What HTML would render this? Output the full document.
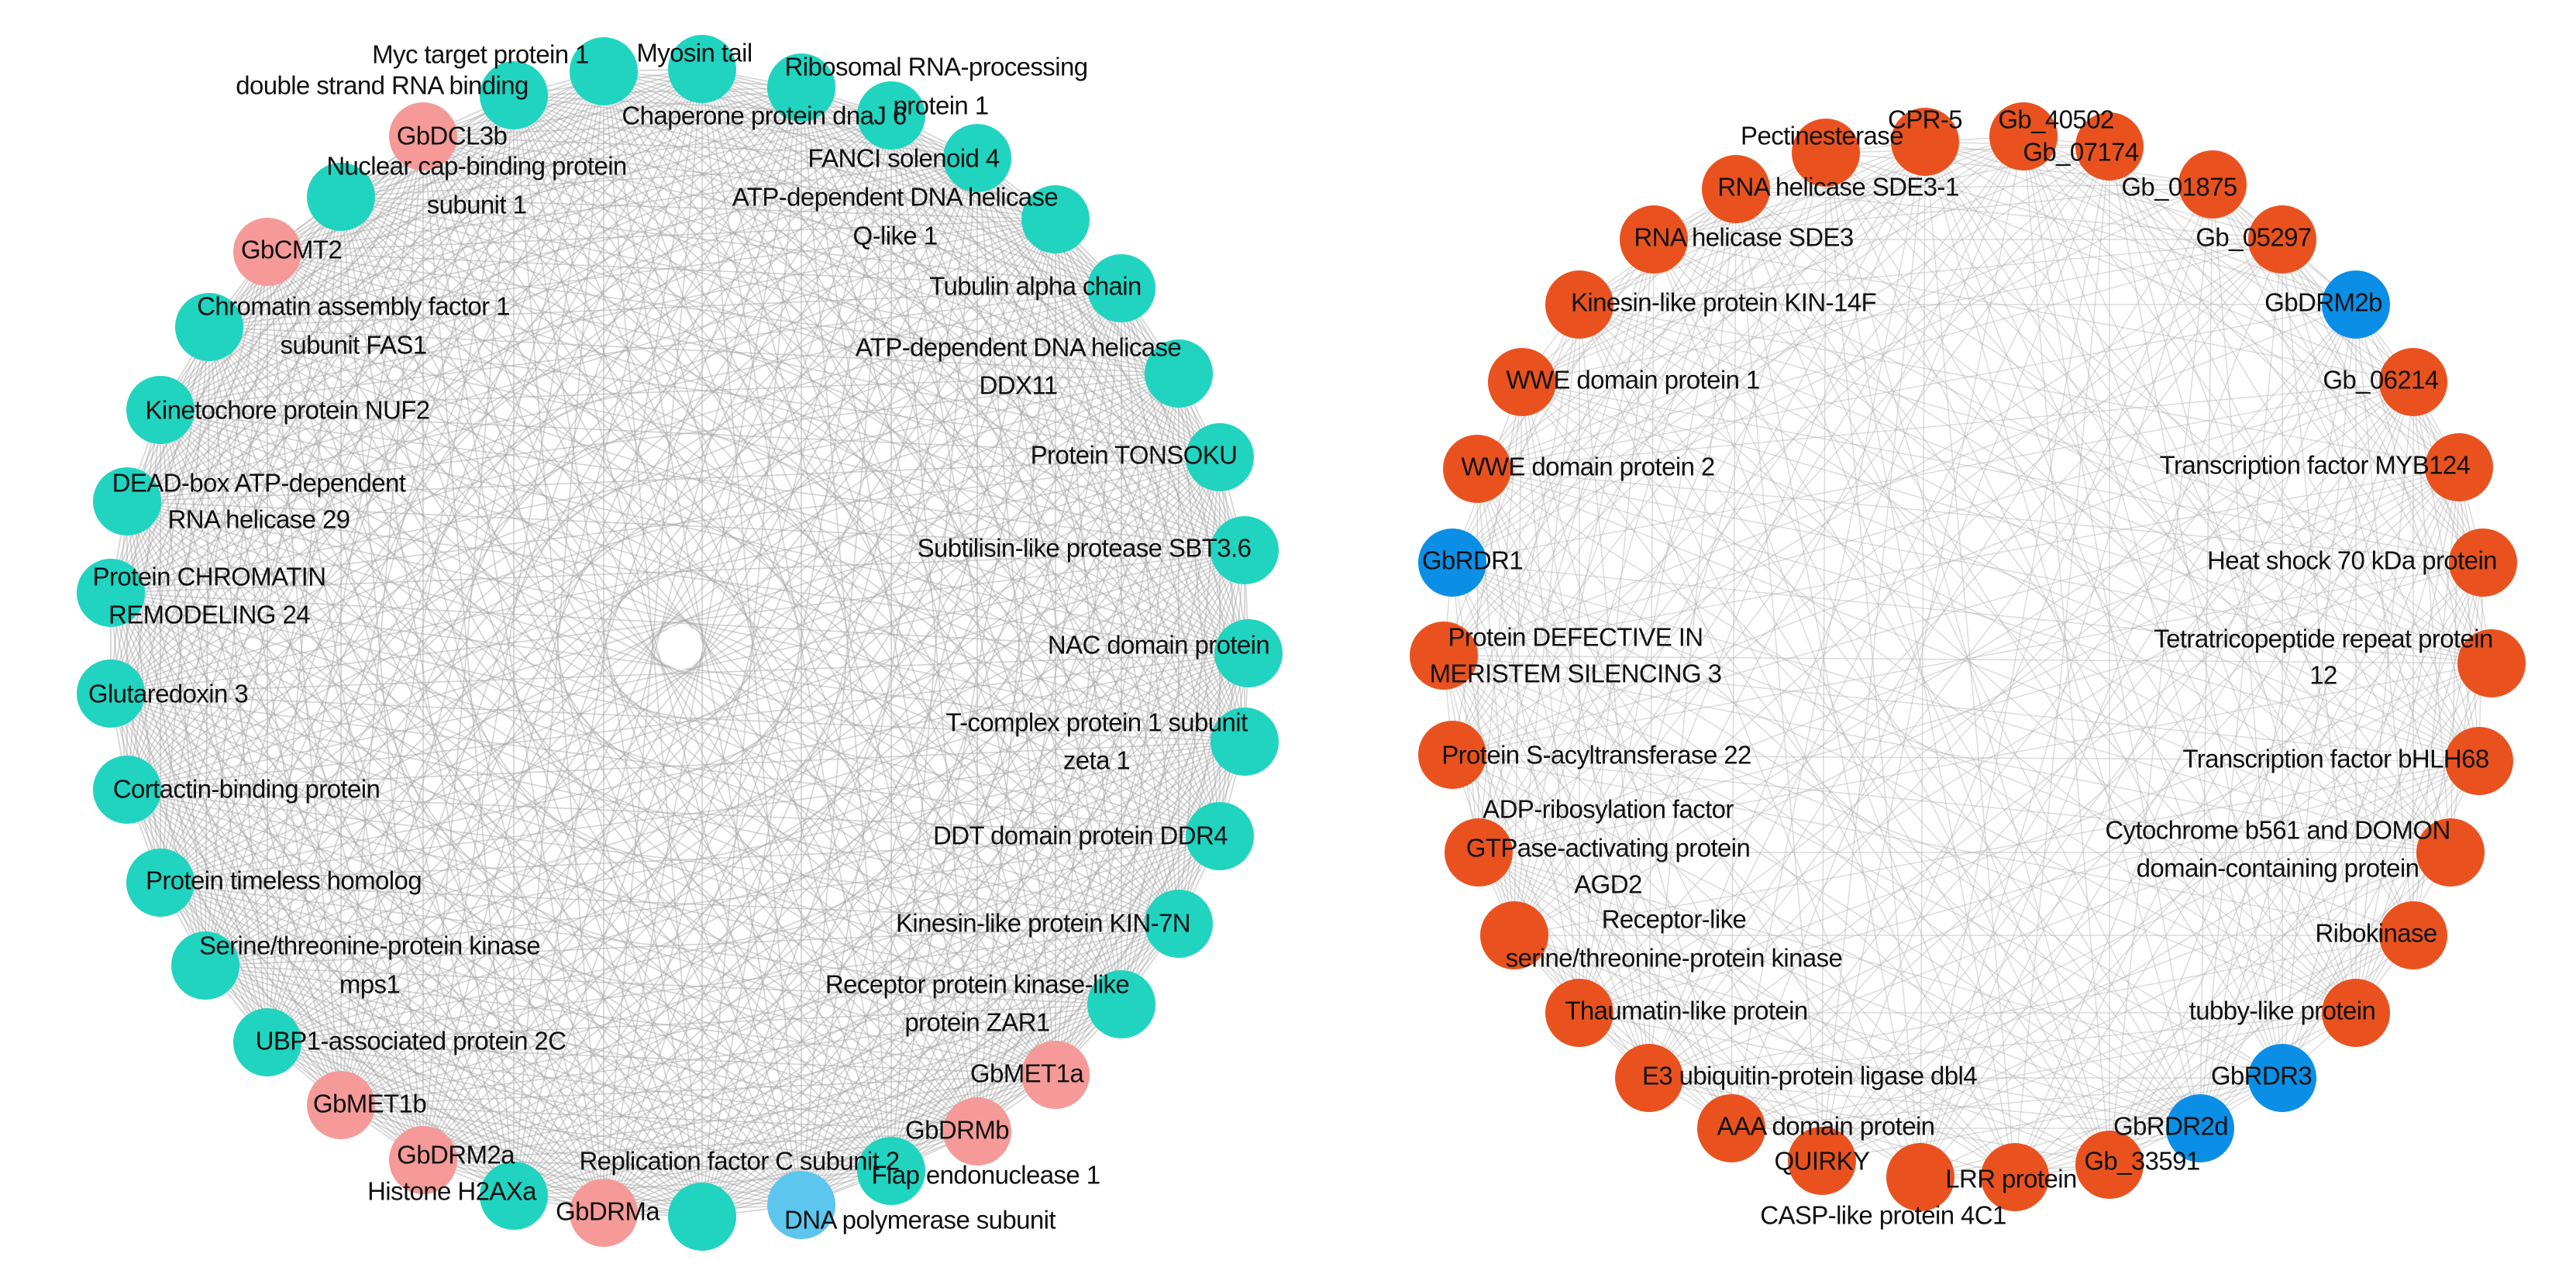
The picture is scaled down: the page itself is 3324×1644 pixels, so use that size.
<!DOCTYPE html>
<html><head><meta charset="utf-8"><style>
html,body{margin:0;padding:0;background:#fff;width:3324px;height:1644px;overflow:hidden}
svg{display:block}
text{font-family:"Liberation Sans",Arial,sans-serif;font-size:33px;fill:#111;text-anchor:middle;dominant-baseline:middle;letter-spacing:-0.6px}
</style></head><body>
<svg id="s" width="3324" height="1644" viewBox="0 0 3324 1644" xmlns="http://www.w3.org/2000/svg">
<g id="edgesL" stroke="#aaaaaa" stroke-width="1.7" stroke-opacity="0.5" fill="none"></g>
<g id="edgesR" stroke="#b8b8b8" stroke-width="1.5" stroke-opacity="0.5" fill="none"></g>
<circle cx="878" cy="835" r="28" fill="#fff"/>
<g id="nodes"></g>
<g id="labels">
<text x="620" y="73">Myc target protein 1</text>
<text x="493" y="113">double strand RNA binding</text>
<text x="896" y="71">Myosin tail</text>
<text x="1208" y="89">Ribosomal RNA-processing</text>
<text x="1214" y="139">protein 1</text>
<text x="986" y="152">Chaperone protein dnaJ 6</text>
<text x="583" y="178">GbDCL3b</text>
<text x="615" y="217">Nuclear cap-binding protein</text>
<text x="615" y="267">subunit 1</text>
<text x="1166" y="207">FANCI solenoid 4</text>
<text x="1155" y="257">ATP-dependent DNA helicase</text>
<text x="1155" y="307">Q-like 1</text>
<text x="376" y="325">GbCMT2</text>
<text x="1336" y="372">Tubulin alpha chain</text>
<text x="456" y="398">Chromatin assembly factor 1</text>
<text x="456" y="448">subunit FAS1</text>
<text x="1314" y="451">ATP-dependent DNA helicase</text>
<text x="1314" y="500">DDX11</text>
<text x="371" y="532">Kinetochore protein NUF2</text>
<text x="1463" y="590">Protein TONSOKU</text>
<text x="334" y="626">DEAD-box ATP-dependent</text>
<text x="334" y="673">RNA helicase 29</text>
<text x="1399" y="710">Subtilisin-like protease SBT3.6</text>
<text x="270" y="747">Protein CHROMATIN</text>
<text x="270" y="796">REMODELING 24</text>
<text x="1495" y="835">NAC domain protein</text>
<text x="217" y="898">Glutaredoxin 3</text>
<text x="1415" y="935">T-complex protein 1 subunit</text>
<text x="1415" y="984">zeta 1</text>
<text x="318" y="1021">Cortactin-binding protein</text>
<text x="1394" y="1081">DDT domain  protein DDR4</text>
<text x="366" y="1139">Protein timeless homolog</text>
<text x="1346" y="1194">Kinesin-like protein KIN-7N</text>
<text x="477" y="1223">Serine/threonine-protein kinase</text>
<text x="477" y="1273">mps1</text>
<text x="1261" y="1273">Receptor protein kinase-like</text>
<text x="1261" y="1322">protein ZAR1</text>
<text x="530" y="1346">UBP1-associated protein 2C</text>
<text x="1325" y="1388">GbMET1a</text>
<text x="477" y="1427">GbMET1b</text>
<text x="1235" y="1461">GbDRMb</text>
<text x="588" y="1493">GbDRM2a</text>
<text x="954" y="1501">Replication factor C subunit 2</text>
<text x="1272" y="1519">Flap endonuclease 1</text>
<text x="583" y="1540">Histone H2AXa</text>
<text x="784" y="1566">GbDRMa</text>
<text x="1187" y="1577">DNA polymerase subunit</text>
<text x="2484" y="157">CPR-5</text>
<text x="2653" y="157">Gb_40502</text>
<text x="2351" y="178">Pectinesterase</text>
<text x="2685" y="199">Gb_07174</text>
<text x="2372" y="244">RNA helicase SDE3-1</text>
<text x="2812" y="244">Gb_01875</text>
<text x="2250" y="309">RNA helicase SDE3</text>
<text x="2908" y="309">Gb_05297</text>
<text x="2224" y="393">Kinesin-like protein KIN-14F</text>
<text x="2998" y="393">GbDRM2b</text>
<text x="2107" y="493">WWE domain protein 1</text>
<text x="3072" y="493">Gb_06214</text>
<text x="2049" y="605">WWE domain protein 2</text>
<text x="2987" y="603">Transcription factor MYB124</text>
<text x="1900" y="726">GbRDR1</text>
<text x="3035" y="726">Heat shock 70 kDa protein</text>
<text x="2033" y="825">Protein DEFECTIVE IN</text>
<text x="2033" y="872">MERISTEM SILENCING 3</text>
<text x="2998" y="827">Tetratricopeptide repeat protein</text>
<text x="2998" y="874">12</text>
<text x="2060" y="977">Protein S-acyltransferase 22</text>
<text x="3014" y="982">Transcription factor bHLH68</text>
<text x="2075" y="1047">ADP-ribosylation factor</text>
<text x="2075" y="1097">GTPase-activating protein</text>
<text x="2075" y="1144">AGD2</text>
<text x="2939" y="1074">Cytochrome b561 and DOMON</text>
<text x="2939" y="1123">domain-containing protein</text>
<text x="2160" y="1189">Receptor-like</text>
<text x="2160" y="1239">serine/threonine-protein kinase</text>
<text x="3066" y="1207">Ribokinase</text>
<text x="2176" y="1307">Thaumatin-like protein</text>
<text x="2945" y="1307">tubby-like protein</text>
<text x="2335" y="1391">E3 ubiquitin-protein ligase dbl4</text>
<text x="2918" y="1391">GbRDR3</text>
<text x="2356" y="1456">AAA domain protein</text>
<text x="2801" y="1456">GbRDR2d</text>
<text x="2351" y="1501">QUIRKY</text>
<text x="2764" y="1501">Gb_33591</text>
<text x="2595" y="1524">LRR protein</text>
<text x="2430" y="1571">CASP-like protein 4C1</text>
</g>
</svg>
<script>
var T="#20d4c0",P="#f59a98",B="#5cc6ee",O="#e9521f",D="#0b8fe6";
var L=[[663,123,T],[779,92,T],[906,89,T],[1034,113,T],[1150,149,T],[1261,204,T],[1362,283,T],[1447,372,T],[1521,482,T],[1574,590,T],[1606,710,T],[1611,843,T],[1606,957,T],[1574,1079,T],[1521,1192,T],[1447,1296,T],[1362,1387,P],[1261,1460,P],[1150,1511,T],[1034,1555,B],[906,1570,T],[779,1565,P],[663,1543,T],[546,1497,P],[440,1426,P],[345,1345,T],[265,1246,T],[207,1139,T],[164,1019,T],[143,895,T],[143,765,T],[164,647,T],[207,529,T],[270,422,T],[345,325,P],[440,254,T],[546,176,P]];
var R=[[2356,197,O],[2484,183,O],[2611,176,O],[2722,189,O],[2855,238,O],[2945,309,O],[3040,393,D],[3114,493,O],[3173,603,O],[3204,726,O],[3215,856,O],[3199,982,O],[3162,1100,O],[3114,1207,O],[3040,1307,O],[2945,1391,D],[2839,1456,D],[2722,1503,O],[2600,1519,O],[2478,1519,O],[2351,1498,O],[2234,1456,O],[2128,1391,O],[2038,1307,O],[1954,1207,O],[1908,1100,O],[1874,974,O],[1863,846,O],[1874,726,D],[1906,605,O],[1964,493,O],[2038,393,O],[2134,309,O],[2240,244,O]];
var ns="http://www.w3.org/2000/svg";
function ln(g,a,b){var l=document.createElementNS(ns,"line");l.setAttribute("x1",a[0]);l.setAttribute("y1",a[1]);l.setAttribute("x2",b[0]);l.setAttribute("y2",b[1]);g.appendChild(l);}
var gL=document.getElementById("edgesL"),gR=document.getElementById("edgesR"),gN=document.getElementById("nodes");
for(var i=0;i<L.length;i++)for(var j=i+1;j<L.length;j++)ln(gL,L[i],L[j]);
var seed=7;function rnd(){seed=(seed*16807)%2147483647;return seed/2147483647;}
for(var i=0;i<R.length;i++)for(var j=i+1;j<R.length;j++)if(rnd()<0.7)ln(gR,R[i],R[j]);
L.concat(R).forEach(function(n){var c=document.createElementNS(ns,"circle");c.setAttribute("cx",n[0]);c.setAttribute("cy",n[1]);c.setAttribute("r",44);c.setAttribute("fill",n[2]);gN.appendChild(c);});
</script>
</body></html>
